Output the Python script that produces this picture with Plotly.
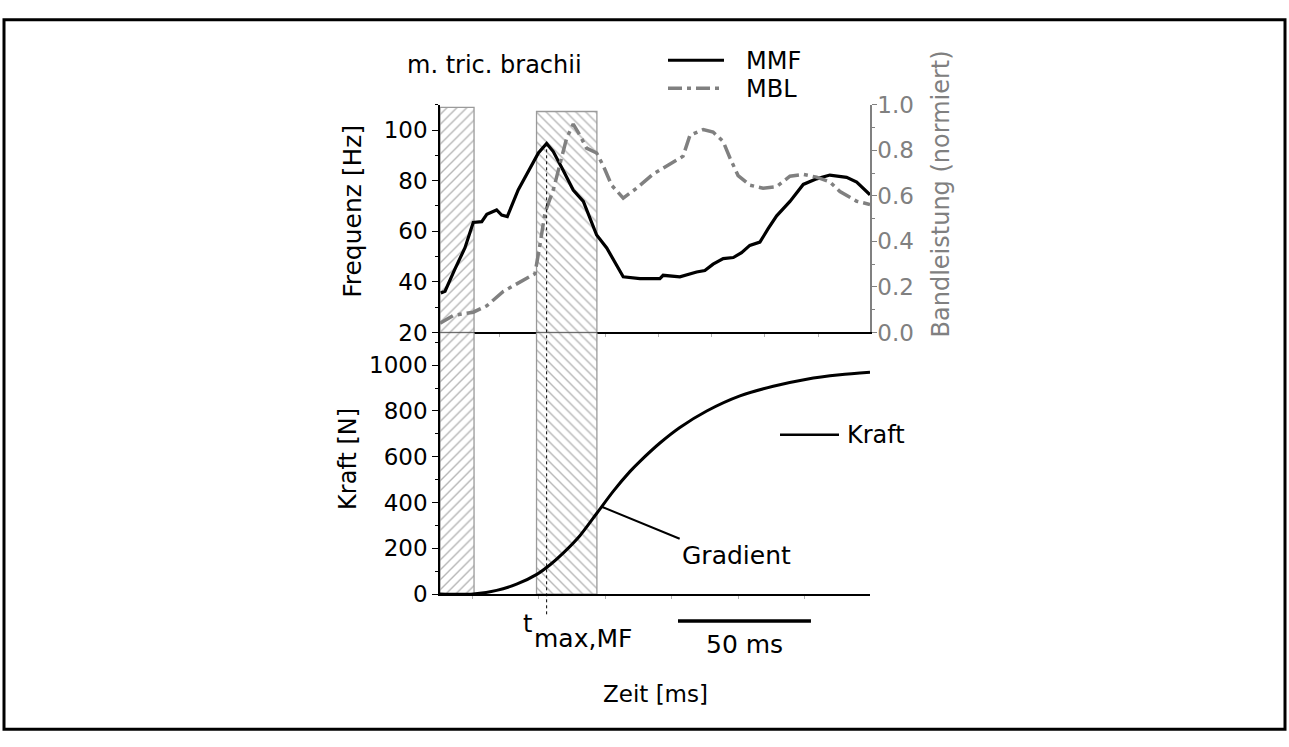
import numpy as np
import plotly.graph_objects as go

W, H = 1289, 747
FONT = "DejaVu Sans"
GRAY = "#808080"

# ---------------- data (time in ms from left edge of plot) ----------------
mmf_t = [0.3, 1.9, 5.6, 9.4, 12.5, 15.7, 17.6, 21.3, 23.2, 25.3, 29.4, 33.8, 37.0, 40.1,
         42.6, 46.4, 50.1, 53.9, 58.9, 62.7, 68.9, 75.2, 82.7, 83.9, 90.2, 96.5, 99.6,
         102.7, 106.5, 110.3, 113.4, 116.5, 120.3, 123.4, 126.6, 131.6, 136.6, 141.6,
         146.6, 152.9, 156.7, 161.7]
mmf_hz = [35.6, 36.3, 45.0, 53.5, 63.5, 63.8, 66.7, 68.4, 66.4, 65.8, 76.3, 85.1, 90.9, 94.7,
          91.5, 83.9, 76.3, 71.8, 58.5, 53.4, 42.0, 41.3, 41.3, 42.6, 42.0, 43.9, 44.5,
          47.0, 49.2, 49.6, 51.5, 54.4, 55.7, 61.0, 66.1, 71.8, 78.5, 80.7, 82.2, 81.3,
          79.4, 74.4]

mbl_t = [0.0, 5.0, 12.5, 17.6, 23.8, 30.1, 35.7, 37.6, 39.5, 42.6, 45.1, 47.6, 50.1, 52.6,
         55.1, 58.9, 61.4, 64.5, 68.9, 73.9, 80.2, 85.2, 91.4, 94.0, 99.0, 102.7, 106.5,
         109.0, 112.1, 116.5, 121.5, 126.6, 131.6, 136.6, 141.6, 146.6, 150.4, 156.7, 161.7]
mbl_val = [0.04, 0.075, 0.089, 0.117, 0.18, 0.223, 0.258, 0.386, 0.527, 0.626, 0.739, 0.852,
           0.915, 0.866, 0.809, 0.788, 0.732, 0.647, 0.59, 0.633, 0.696, 0.732, 0.774, 0.866,
           0.891, 0.88, 0.838, 0.767, 0.689, 0.647, 0.633, 0.64, 0.686, 0.694, 0.682, 0.661,
           0.619, 0.576, 0.562]

kraft_t = [0.0, 12.5, 21.3, 28.8, 36.4, 41.4, 46.4, 52.6, 58.9, 65.2, 71.4, 75.2, 82.7, 90.2,
           100.3, 112.8, 125.3, 137.9, 150.4, 161.7]
kraft_n = [0, 0, 16, 43, 86, 128, 180, 255, 352, 450, 535, 580, 660, 728, 800, 866, 908, 939,
           958, 969]

hatch_x0 = [0.0, 36.3]
hatch_x1 = [12.8, 59.0]
hatch_shape = ["/", "\\"]
hatch_top_hz = [108.9, 107.3]

t_max = 40.1          # time of max. MMF
t_gradient = 60.8     # point where "Gradient" label points
scalebar_start = 89.5
scalebar_len = 50

x_range = [0, 161.7]
hz_range = [20, 110]
bl_range = [0, 1.0]
n_range = [0, 1143]

hz_ticks = [20, 40, 60, 80, 100]
bl_ticks = [0.0, 0.2, 0.4, 0.6, 0.8, 1.0]
n_ticks = [0, 200, 400, 600, 800, 1000]

# ---------------- layout helpers ----------------
def px(x):
    return x / W

def py(y):
    return 1 - y / H

x_dom = [px(440), px(870)]
top_dom = [py(331), py(95)]
bot_dom = [py(602), py(331)]


def val2paper(v, dom, rng):
    return dom[0] + (v - rng[0]) / (rng[1] - rng[0]) * (dom[1] - dom[0])


fig = go.Figure()

# hatched windows (top and bottom panel parts)
for x0, x1, shp, top in zip(hatch_x0, hatch_x1, hatch_shape, hatch_top_hz):
    pat = dict(shape=shp, fgcolor="#6e6e6e", bgcolor="white", size=7, solidity=0.2)
    fig.add_trace(go.Bar(x=[(x0 + x1) / 2], y=[top - hz_range[0]], base=hz_range[0],
                         width=[x1 - x0], xaxis="x", yaxis="y", showlegend=False,
                         marker=dict(color="white", pattern=pat,
                                     line=dict(color="#9a9a9a", width=1.3))))
    fig.add_trace(go.Bar(x=[(x0 + x1) / 2], y=[n_range[1]], base=0,
                         width=[x1 - x0], xaxis="x2", yaxis="y3", showlegend=False,
                         marker=dict(color="white", pattern=pat,
                                     line=dict(color="#9a9a9a", width=1.3))))

fig.add_trace(go.Scatter(x=mbl_t, y=mbl_val, xaxis="x", yaxis="y2", mode="lines",
                         line=dict(color=GRAY, width=3.5, dash="15px,5px,4px,5px"),
                         showlegend=False))
fig.add_trace(go.Scatter(x=mmf_t, y=mmf_hz, xaxis="x", yaxis="y", mode="lines",
                         line=dict(color="black", width=3.2), showlegend=False))
fig.add_trace(go.Scatter(x=kraft_t, y=kraft_n, xaxis="x2", yaxis="y3", mode="lines",
                         line=dict(color="black", width=3, shape="spline", smoothing=0.8),
                         showlegend=False))

tickfont = dict(family=FONT, size=23, color="black")
common_x = dict(domain=x_dom, range=x_range, showgrid=False, zeroline=False,
                showline=True, linecolor="black", linewidth=1.5, showticklabels=False,
                ticks="outside", ticklen=3, tickcolor="#b0b0b0", tickwidth=1)

fig.update_layout(
    width=W, height=H, margin=dict(l=0, r=0, t=0, b=0),
    paper_bgcolor="white", plot_bgcolor="rgba(0,0,0,0)",
    barmode="overlay", showlegend=False, font=dict(family=FONT),
    xaxis=dict(anchor="y", tick0=2.2, dtick=20, **common_x),
    xaxis2=dict(anchor="y3", tick0=12.2, dtick=25, **common_x),
    yaxis=dict(domain=top_dom, range=hz_range, anchor="x", showgrid=False, zeroline=False,
               showline=True, linecolor="black", linewidth=1.5, tickmode="array",
               tickvals=hz_ticks, ticks="outside", ticklen=6, tickcolor="black",
               tickfont=tickfont,
               minor=dict(dtick=10, tick0=20, ticks="outside", ticklen=3, tickcolor="black")),
    yaxis2=dict(range=bl_range, overlaying="y", side="right", anchor="x", showgrid=False,
                zeroline=False, showline=True, linecolor=GRAY, linewidth=1.5,
                tickmode="array", tickvals=bl_ticks, tickformat=".1f", ticks="outside",
                ticklen=5, tickcolor=GRAY, tickfont=dict(family=FONT, size=23, color=GRAY),
                ticklabelstandoff=-4,
                minor=dict(dtick=0.1, tick0=0, ticks="outside", ticklen=3, tickcolor=GRAY)),
    yaxis3=dict(domain=bot_dom, range=n_range, anchor="x2", showgrid=False, zeroline=False,
                showline=True, linecolor="black", linewidth=1.5, tickmode="array",
                tickvals=n_ticks, ticks="outside", ticklen=6, tickcolor="black",
                tickfont=tickfont,
                minor=dict(dtick=100, tick0=0, ticks="outside", ticklen=3,
                           tickcolor="black")),
)

shapes = []
# frame
shapes.append(dict(type="rect", xref="paper", yref="paper", x0=px(4), x1=px(1285),
                   y0=py(742), y1=py(7), line=dict(color="black", width=3)))
# dashed t_max line from MMF peak down below the axis
peak_y = val2paper(max(mmf_hz), top_dom, hz_range)
shapes.append(dict(type="line", xref="x", yref="paper", x0=t_max, x1=t_max,
                   y0=py(623), y1=peak_y, line=dict(color="black", width=1, dash="3px,3px")))
# 50 ms scale bar
shapes.append(dict(type="line", xref="x", yref="paper", x0=scalebar_start,
                   x1=scalebar_start + scalebar_len, y0=py(630), y1=py(630),
                   line=dict(color="black", width=3.5)))
# legends
shapes.append(dict(type="line", xref="paper", yref="paper", x0=px(668), x1=px(724),
                   y0=py(49), y1=py(49), line=dict(color="black", width=3)))
shapes.append(dict(type="line", xref="paper", yref="paper", x0=px(668), x1=px(724),
                   y0=py(78), y1=py(78), line=dict(color=GRAY, width=3.5, dash="14px,5px,4px,5px")))
shapes.append(dict(type="line", xref="paper", yref="paper", x0=px(780), x1=px(839),
                   y0=py(437), y1=py(437), line=dict(color="black", width=2.5)))
fig.update_layout(shapes=shapes)


def txt(x, y, s, size=24, color="black", xanchor="center", yanchor="middle", angle=0):
    return dict(x=x, y=y, xref="paper", yref="paper", text=s, showarrow=False,
                xanchor=xanchor, yanchor=yanchor, textangle=angle,
                font=dict(family=FONT, size=size, color=color))


ann = [
    txt(px(494), py(54), "m. tric. brachii", 24),
    txt(px(744), py(50), "MMF", 24, xanchor="left"),
    txt(px(744), py(79), "MBL", 24, xanchor="left"),
    txt(px(353), py(205), "Frequenz [Hz]", 25, angle=-90),
    txt(px(941), py(188), "Bandleistung (normiert)", 24, color=GRAY, angle=-90),
    txt(px(348), py(462), "Kraft [N]", 24, angle=-90),
    txt(px(845), py(437), "Kraft", 24, xanchor="left"),
    txt(px(527), py(633), "t", 24),
    txt(px(583), py(648), "max,MF", 25),
    txt(px(655), py(706), "Zeit [ms]", 23),
    dict(x=scalebar_start + scalebar_len / 2, y=py(654), xref="x", yref="paper",
         text="50 ms", showarrow=False, xanchor="center", yanchor="middle",
         font=dict(family=FONT, size=25, color="black")),
    dict(x=t_gradient, y=float(np.interp(t_gradient, kraft_t, kraft_n)), xref="x2", yref="y3",
         text="Gradient", showarrow=True, arrowhead=0, arrowwidth=2, arrowcolor="black",
         ax=78, ay=32, xanchor="left", yanchor="top", standoff=0,
         font=dict(family=FONT, size=25, color="black")),
]
fig.update_layout(annotations=ann)

fig.write_html("out.html")
